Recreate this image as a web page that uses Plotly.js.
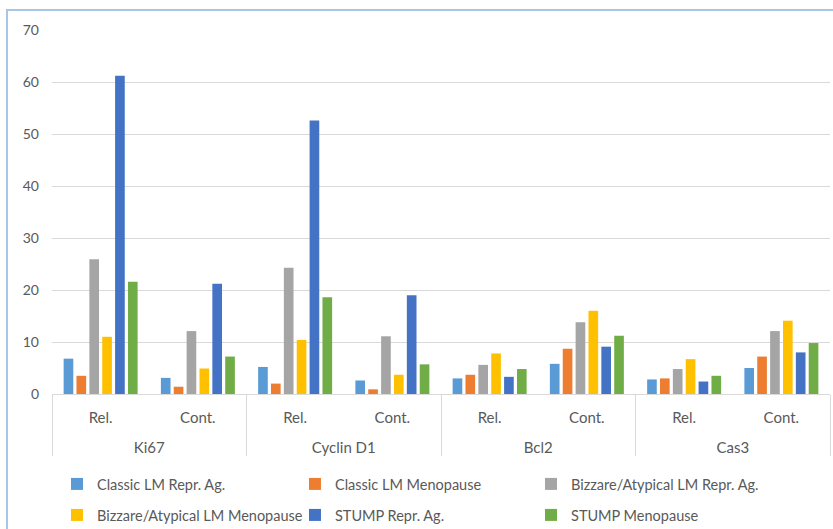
<!DOCTYPE html>
<html>
<head>
<meta charset="utf-8">
<script src="https://cdn.plot.ly/plotly-3.0.1.min.js"></script>
<style>
  html, body { margin:0; padding:0; width:833px; height:529px; overflow:hidden; background:#fff; }
  #chart { position:absolute; left:0; top:0; width:833px; height:529px; }
  #frame { position:absolute; left:6px; top:9px; width:860px; height:600px; border:2px solid #A7C6E8; pointer-events:none; box-sizing:border-box; }
</style>
</head>
<body>
<div id="chart"></div>
<div id="frame"></div>
<script>
// Category labels (outer marker, inner measure)
const markers = ['Ki67','Ki67','Cyclin D1','Cyclin D1','Bcl2','Bcl2','Cas3','Cas3'];
const measures = ['Rel.','Cont.','Rel.','Cont.','Rel.','Cont.','Rel.','Cont.'];

// Series names
const seriesNames = [
  'Classic LM Repr. Ag.',
  'Classic LM Menopause',
  'Bizzare/Atypical LM Repr. Ag.',
  'Bizzare/Atypical LM Menopause',
  'STUMP Repr. Ag.',
  'STUMP Menopause'
];

// Series values
const classicRepr = [6.8, 3.1, 5.2, 2.6, 3.0, 5.8, 2.8, 5.0];
const classicMeno = [3.5, 1.4, 2.0, 0.9, 3.7, 8.7, 3.0, 7.2];
const bizarreRepr = [25.9, 12.1, 24.3, 11.1, 5.6, 13.8, 4.8, 12.1];
const bizarreMeno = [11.0, 4.9, 10.4, 3.7, 7.8, 16.0, 6.7, 14.1];
const stumpRepr = [61.2, 21.2, 52.6, 19.0, 3.3, 9.1, 2.4, 8.0];
const stumpMeno = [21.6, 7.2, 18.6, 5.7, 4.8, 11.2, 3.5, 9.8];

const seriesValues = [classicRepr, classicMeno, bizarreRepr, bizarreMeno, stumpRepr, stumpMeno];
const colors = ['#5B9BD5', '#ED7D31', '#A5A5A5', '#FFC000', '#4472C4', '#70AD47'];

const FONT = 'Lato, "Open Sans", sans-serif';
const GREY = '#595959';

// outer labels get an empty first line so they sit lower, as in the reference
const outerLabels = markers.map(m => '<br>' + m);

// one legend per entry so the 3x2 grid of entries can be placed like the reference
const legendIds = ['legend', 'legend2', 'legend3', 'legend4', 'legend5', 'legend6'];

const traces = seriesValues.map((vals, i) => ({
  type: 'bar',
  name: seriesNames[i],
  x: [outerLabels, measures],
  y: vals,
  marker: { color: colors[i], line: { width: 0 } },
  legend: legendIds[i],
  hoverinfo: 'y+name'
}));

const colX = [0.0064, 0.3123, 0.6157];
const rowY = [1 - 484 / 529, 1 - 515 / 529];

const layout = {
  width: 833,
  height: 529,
  margin: { l: 52, r: 3, t: 30, b: 135 },
  paper_bgcolor: '#ffffff',
  plot_bgcolor: '#ffffff',
  font: { family: FONT, size: 15, color: GREY },
  barmode: 'group',
  bargap: 0.206,
  bargroupgap: 0.25,
  showlegend: true,
  xaxis: {
    type: 'multicategory',
    automargin: false,
    showline: true,
    linecolor: '#D9D9D9',
    linewidth: 1,
    showdividers: true,
    dividercolor: '#D9D9D9',
    dividerwidth: 1,
    ticks: '',
    ticklabelstandoff: 10,
    tickfont: { family: FONT, size: 15, color: GREY },
    showgrid: false,
    zeroline: false,
    fixedrange: true
  },
  yaxis: {
    range: [0, 70],
    dtick: 10,
    tick0: 0,
    automargin: false,
    showgrid: true,
    gridcolor: '#D9D9D9',
    gridwidth: 1,
    zeroline: false,
    showline: false,
    ticks: '',
    ticklabelstandoff: 12,
    tickfont: { family: FONT, size: 14, color: GREY },
    fixedrange: true
  }
};

legendIds.forEach((id, i) => {
  layout[id] = {
    orientation: 'h',
    xref: 'paper',
    yref: 'container',
    x: colX[i % 3],
    y: rowY[Math.floor(i / 3)],
    xanchor: 'left',
    yanchor: 'middle',
    font: { family: FONT, size: 14.5, color: GREY },
    itemwidth: 30,
    bgcolor: 'rgba(0,0,0,0)'
  };
});

Plotly.newPlot('chart', traces, layout, { displayModeBar: false, staticPlot: true });
</script>
</body>
</html>
